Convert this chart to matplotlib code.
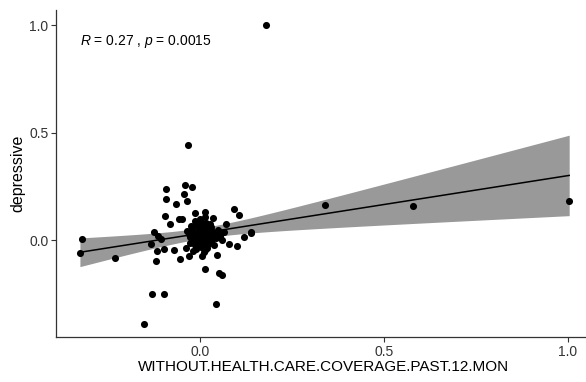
import numpy as np
import matplotlib
matplotlib.use("Agg")
import matplotlib.pyplot as plt

plt.rcParams["font.family"] = ["Liberation Sans", "DejaVu Sans"]
plt.rcParams["mathtext.fontset"] = "custom"
plt.rcParams["mathtext.it"] = "Liberation Sans:italic"
plt.rcParams["mathtext.rm"] = "Liberation Sans"

# Scattered observations (x = uninsured share change, y = depressive change)
x_spread = [-0.033, -0.041, -0.022, -0.092, -0.043, -0.092, -0.036, -0.064,
            0.092, 0.106, -0.013, 0.013, -0.095, -0.056, -0.048, 0.036,
            -0.082, 0.070, 0.138, 0.119, -0.124, -0.115, -0.105, -0.319,
            -0.326, -0.231, -0.134, -0.116, -0.119, -0.098, -0.070, -0.054,
            -0.038, -0.029, 0.006, 0.015, 0.048, 0.015, 0.052, 0.061,
            0.080, 0.100, -0.131, -0.098, 0.043, -0.152, 0.341, 0.579,
            1.004, 0.139, 0.181]
y_spread = [0.442, 0.256, 0.249, 0.237, 0.217, 0.192, 0.185, 0.168,
            0.146, 0.119, 0.127, 0.134, 0.112, 0.099, 0.101, 0.104,
            0.075, 0.075, 0.038, 0.014, 0.038, 0.020, 0.005, 0.006,
            -0.058, -0.083, -0.017, -0.049, -0.094, -0.041, -0.044, -0.085,
            -0.035, -0.074, -0.074, -0.046, -0.066, -0.134, -0.152, -0.160,
            -0.017, -0.025, -0.251, -0.251, -0.297, -0.387, 0.164, 0.160,
            0.184, 0.033, 1.000]

# Dense group of observations near zero
x_core = [-0.030, -0.022, -0.015, -0.010, -0.005, 0.000, 0.004, 0.008,
          0.012, 0.018, 0.024, 0.030, -0.026, -0.018, -0.012, -0.006,
          0.002, 0.006, 0.010, 0.016, 0.022, 0.028, 0.034, -0.020,
          -0.014, -0.008, -0.002, 0.003, 0.009, 0.014, 0.020, 0.026,
          -0.016, -0.009, -0.003, 0.005, 0.011, 0.017, 0.025, 0.032,
          -0.024, -0.011, 0.001, 0.007, 0.013, 0.019, 0.040, -0.028,
          -0.004, 0.015, 0.029, 0.045, -0.035, 0.038, 0.050, -0.019,
          0.021, 0.000, 0.010, -0.007, 0.055, 0.060, 0.065]
y_core = [0.030, 0.055, 0.010, 0.070, 0.040, 0.020, 0.085, 0.045,
          0.005, 0.060, 0.030, 0.050, -0.010, 0.020, -0.020, 0.000,
          0.060, -0.005, 0.030, 0.015, -0.015, 0.075, 0.020, 0.040,
          0.090, 0.025, 0.050, -0.030, 0.065, 0.040, 0.000, -0.010,
          0.005, 0.035, 0.010, 0.025, -0.020, 0.080, 0.045, 0.005,
          0.065, -0.040, 0.100, 0.015, 0.050, -0.035, 0.030, 0.015,
          -0.015, 0.110, 0.060, 0.010, 0.045, -0.020, 0.050, -0.050,
          0.035, 0.000, -0.055, 0.075, 0.020, 0.000, 0.040]

corr_label = r"$\it{R}$ = 0.27 , $\it{p}$ = 0.0015"
x_ticks = [0.0, 0.5, 1.0]
y_ticks = [0.0, 0.5, 1.0]

x = np.array(x_spread + x_core)
y = np.array(y_spread + y_core)
n = len(x)

# Ordinary least squares fit with 95% confidence band
slope, intercept = np.polyfit(x, y, 1)
resid = y - (intercept + slope * x)
s = np.sqrt(np.sum(resid ** 2) / (n - 2))
xm = x.mean()
sxx = np.sum((x - xm) ** 2)
xs = np.linspace(x.min(), x.max(), 100)
ys = intercept + slope * xs
se = s * np.sqrt(1.0 / n + (xs - xm) ** 2 / sxx)
tq = 1.98
lo, hi = ys - tq * se, ys + tq * se

fig = plt.figure(figsize=(5.86, 3.82), dpi=100)
ax = fig.add_axes([56 / 586, 45 / 382, 536 / 586, 326.6 / 382])

ax.fill_between(xs, lo, hi, color="#999999", lw=0, zorder=1)
ax.plot(xs, ys, color="black", lw=1.1, zorder=2)
ax.scatter(x, y, s=26, color="black", lw=0, zorder=3)

ax.text(-0.326, 0.925, corr_label, fontsize=10, color="black",
        ha="left", va="center")

ax.set_xlim(-0.391, 1.066)
ax.set_ylim(-0.449, 1.069)
ax.set_xticks(x_ticks)
ax.set_yticks(y_ticks)
ax.set_xticklabels([f"{t:.1f}" for t in x_ticks])
ax.set_yticklabels([f"{t:.1f}" for t in y_ticks])
ax.tick_params(colors="#333333", labelcolor="#333333", labelsize=10,
               length=3.5, width=0.8, pad=2)
for side in ("top", "right"):
    ax.spines[side].set_visible(False)
for side in ("left", "bottom"):
    ax.spines[side].set_color("#333333")
    ax.spines[side].set_linewidth(0.9)

ax.set_xlabel("WITHOUT.HEALTH.CARE.COVERAGE.PAST.12.MON", fontsize=11,
              color="black", labelpad=1)
ax.set_ylabel("depressive", fontsize=11.5, color="black", labelpad=3)

fig.savefig("out.png", dpi=100)
